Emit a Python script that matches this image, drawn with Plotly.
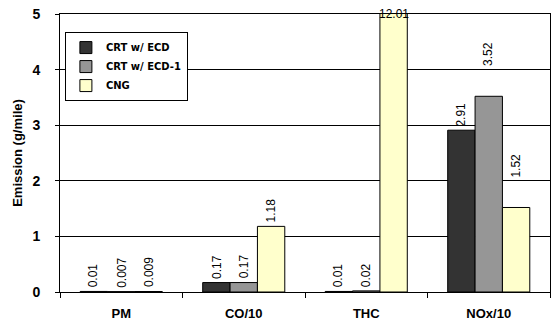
import plotly.graph_objects as go

categories = ["PM", "CO/10", "THC", "NOx/10"]
series_names = ["CRT w/ ECD", "CRT w/ ECD-1", "CNG"]
crt_ecd = [0.01, 0.17, 0.01, 2.91]
crt_ecd1 = [0.007, 0.17, 0.02, 3.52]
cng = [0.009, 1.18, 12.01, 1.52]
label_text = [["0.01", "0.17", "0.01", "2.91"],
              ["0.007", "0.17", "0.02", "3.52"],
              ["0.009", "1.18", "12.01", "1.52"]]
colors = ["#333333", "#969696", "#FFFFCC"]
YMAX = 5

FONT = "Liberation Sans, Arial, sans-serif"
LFONT = "DejaVu Sans, Verdana, sans-serif"
fig = go.Figure()
series = [crt_ecd, crt_ecd1, cng]
for name, vals, col in zip(series_names, series, colors):
    fig.add_trace(go.Bar(x=categories, y=vals, name=name, marker_color=col,
                         marker_line_color="#000000", marker_line_width=1))

bargap = 0.33
bw = (1 - bargap) / 3
extra_shift = {(1, 3): 26, (2, 3): 26}
for si, vals in enumerate(series):
    off = (si - 1) * bw
    for ci, v in enumerate(vals):
        if v > YMAX:
            fig.add_annotation(x=ci + off, y=YMAX, text=label_text[si][ci], showarrow=False,
                               xref="x", yref="y", yanchor="middle",
                               font=dict(family=FONT, size=12, color="#000"))
        else:
            fig.add_annotation(x=ci + off, y=v, text=label_text[si][ci], showarrow=False,
                               xref="x", yref="y", yanchor="bottom", textangle=-90,
                               yshift=2 + extra_shift.get((si, ci), 0),
                               font=dict(family=FONT, size=12, color="#000"))

fig.update_layout(
    width=555, height=328, margin=dict(l=60, r=5, t=14, b=36),
    paper_bgcolor="white", plot_bgcolor="white",
    barmode="group", bargap=bargap, bargroupgap=0,
    font=dict(family=FONT, color="#000"),
    legend=dict(x=0.01, y=0.935, xanchor="left", yanchor="top",
                bgcolor="white", bordercolor="#000", borderwidth=1,
                font=dict(family=LFONT, size=10, color="#000", weight="bold"),
                tracegroupgap=0, itemwidth=30),
    xaxis=dict(showline=True, linecolor="#000", linewidth=1, mirror=True,
               ticks="outside", tickson="boundaries", ticklen=5, tickcolor="#000",
               ticklabelstandoff=9,
               tickfont=dict(family=FONT, size=13, weight="bold"), showgrid=False),
    yaxis=dict(range=[0, YMAX], dtick=1, showline=True, linecolor="#000", linewidth=1,
               mirror=True, ticks="outside", ticklen=4, tickcolor="#000",
               ticklabelstandoff=12,
               showgrid=True, gridcolor="#000", gridwidth=1, zeroline=False,
               tickfont=dict(family=FONT, size=14, weight="bold"),
               title=dict(text="Emission (g/mile)", standoff=6,
                          font=dict(family=FONT, size=13, weight="bold"))),
)
fig.write_html("out.html")
